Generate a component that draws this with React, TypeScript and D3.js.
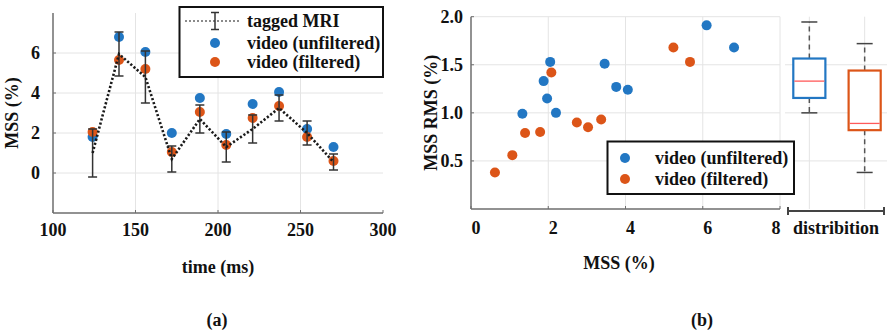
import React from "react";
import * as d3 from "d3";

// ---------- Panel (a) data ----------
const times = [124, 140, 156, 172, 189, 205, 221, 237, 254, 270];
const mriMean = [1.0, 5.95, 4.8, 0.7, 2.7, 1.3, 2.2, 3.25, 2.0, 0.55];
const mriErr = [1.2, 1.1, 1.3, 0.65, 0.7, 0.75, 0.7, 0.65, 0.6, 0.4];
const videoUnfilteredA = [1.8, 6.8, 6.05, 2.0, 3.75, 1.95, 3.45, 4.05, 2.2, 1.3];
const videoFilteredA = [2.05, 5.65, 5.2, 1.05, 3.05, 1.4, 2.75, 3.35, 1.8, 0.6];
const xTicksA = [100, 150, 200, 250, 300];
const yTicksA = [0, 2, 4, 6];

// ---------- Panel (b) data ----------
const unfilteredMSS = [1.33, 2.05, 1.88, 1.97, 2.2, 3.46, 3.76, 4.06, 6.1, 6.81];
const unfilteredRMS = [0.99, 1.53, 1.33, 1.15, 1.0, 1.51, 1.27, 1.24, 1.91, 1.68];
const filteredMSS = [2.08, 5.24, 5.67, 2.74, 3.03, 3.37, 1.4, 1.79, 1.07, 0.62];
const filteredRMS = [1.42, 1.68, 1.53, 0.9, 0.85, 0.93, 0.79, 0.8, 0.56, 0.38];
const xTicksB = [0, 2, 4, 6, 8];
const yTicksB = [0.5, 1.0, 1.5, 2.0];
// box stats: [whiskerLow, q1, median, q3, whiskerHigh]
const boxUnfiltered = [1.0, 1.155, 1.33, 1.565, 1.945];
const boxFiltered = [0.38, 0.82, 0.89, 1.44, 1.72];

const BLUE = "#2277c3";
const ORANGE = "#dc5518";
const FONT = "'Liberation Serif', 'Times New Roman', serif";
const R = 5;

export default function App() {
  const xA = d3.scaleLinear().domain([100, 300]).range([53, 383]);
  const yA = d3.scaleLinear().domain([-2, 8]).range([213, 13]);
  const xB = d3.scaleLinear().domain([0, 8]).range([471, 780]);
  const yB = d3.scaleLinear().domain([0, 2]).range([209, 16.7]);
  const xBox = d3.scaleBand().domain(["u", "f"]).range([785, 889]).paddingInner(0.42).paddingOuter(0.15);

  const mriLine = d3
    .line<number>()
    .x((_, i) => xA(times[i]))
    .y((d) => yA(d))(mriMean) as string;

  const textStyle: React.CSSProperties = {
    fontFamily: FONT,
    fontWeight: "bold",
    fontSize: 18,
    fill: "#111",
  };
  const axisColor = "#6e6e6e";
  const gridColor = "#e4e4e4";

  const box = (stats: number[], key: string, color: string) => {
    const bx = xBox(key)!;
    const bw = xBox.bandwidth();
    const cx = bx + bw / 2;
    const [wl, q1, med, q3, wh] = stats;
    return (
      <g key={key}>
        <line x1={cx} x2={cx} y1={yB(q3)} y2={yB(wh)} stroke="#555" strokeWidth={1.5} strokeDasharray="5,4" />
        <line x1={cx} x2={cx} y1={yB(q1)} y2={yB(wl)} stroke="#555" strokeWidth={1.5} strokeDasharray="5,4" />
        <line x1={cx - 8} x2={cx + 8} y1={yB(wh)} y2={yB(wh)} stroke="#444" strokeWidth={1.5} />
        <line x1={cx - 8} x2={cx + 8} y1={yB(wl)} y2={yB(wl)} stroke="#444" strokeWidth={1.5} />
        <rect x={bx} y={yB(q3)} width={bw} height={yB(q1) - yB(q3)} fill="white" stroke={color} strokeWidth={2.2} />
        <line x1={bx + 1} x2={bx + bw - 1} y1={yB(med)} y2={yB(med)} stroke="#ff5a5a" strokeWidth={1.3} />
      </g>
    );
  };

  return (
    <svg
      width={887}
      height={331}
      style={{ position: "absolute", left: 0, top: 0, background: "white" }}
    >
      <rect width={887} height={331} fill="white" />
      {/* ===== Panel (a) ===== */}
      {xTicksA.slice(1, 4).map((t) => (
        <line key={"gxa" + t} x1={xA(t)} x2={xA(t)} y1={yA(8)} y2={yA(-2)} stroke={gridColor} strokeWidth={1} />
      ))}
      {yTicksA.map((t) => (
        <line key={"gya" + t} x1={xA(100)} x2={xA(300)} y1={yA(t)} y2={yA(t)} stroke={gridColor} strokeWidth={1} />
      ))}
      <line x1={xA(100)} x2={xA(100)} y1={yA(8)} y2={yA(-2)} stroke={axisColor} strokeWidth={1.5} />
      <line x1={xA(100)} x2={xA(300)} y1={yA(-2)} y2={yA(-2)} stroke={axisColor} strokeWidth={1.5} />
      {yTicksA.map((t) => (
        <g key={"tya" + t}>
          <line x1={xA(100)} x2={xA(100) + 3} y1={yA(t)} y2={yA(t)} stroke={axisColor} strokeWidth={1} />
          <text x={40} y={yA(t)} dy="0.35em" textAnchor="end" style={textStyle}>
            {t}
          </text>
        </g>
      ))}
      {xTicksA.map((t) => (
        <g key={"txa" + t}>
          <line x1={xA(t)} x2={xA(t)} y1={yA(-2)} y2={yA(-2) - 3} stroke={axisColor} strokeWidth={1} />
          <text x={xA(t)} y={230} dy="0.35em" textAnchor="middle" style={textStyle}>
            {t}
          </text>
        </g>
      ))}
      <text x={218} y={267} dy="0.35em" textAnchor="middle" style={textStyle}>
        time (ms)
      </text>
      <text
        transform={`translate(12,${yA(3)}) rotate(-90)`}
        dy="0.35em"
        textAnchor="middle"
        style={textStyle}
      >
        MSS (%)
      </text>
      <text x={217} y={320} dy="0.35em" textAnchor="middle" style={textStyle}>
        (a)
      </text>

      {videoUnfilteredA.map((v, i) => (
        <circle key={"bu" + i} cx={xA(times[i])} cy={yA(v)} r={R} fill={BLUE} />
      ))}
      {videoFilteredA.map((v, i) => (
        <circle key={"bf" + i} cx={xA(times[i])} cy={yA(v)} r={R} fill={ORANGE} />
      ))}
      {mriMean.map((m, i) => {
        const x = xA(times[i]);
        const lo = yA(m - mriErr[i]);
        const hi = yA(m + mriErr[i]);
        return (
          <g key={"eb" + i} stroke="#333" strokeWidth={1.5}>
            <line x1={x} x2={x} y1={lo} y2={hi} />
            <line x1={x - 4.5} x2={x + 4.5} y1={lo} y2={lo} />
            <line x1={x - 4.5} x2={x + 4.5} y1={hi} y2={hi} />
          </g>
        );
      })}
      <path d={mriLine} fill="none" stroke="#1a1a1a" strokeWidth={2.6} strokeDasharray="2.2,2" />

      {/* legend (a) */}
      <rect x={179.5} y={7} width={203.5} height={70} fill="white" stroke="#111" strokeWidth={2} />
      <line x1={185} x2={240} y1={21} y2={21} stroke="#666" strokeWidth={1.5} strokeDasharray="2,2" />
      <g stroke="#333" strokeWidth={1.5}>
        <line x1={215} x2={215} y1={12.5} y2={29.5} />
        <line x1={211} x2={219} y1={12.5} y2={12.5} />
        <line x1={211} x2={219} y1={29.5} y2={29.5} />
      </g>
      <circle cx={215} cy={43} r={R} fill={BLUE} />
      <circle cx={215} cy={62} r={R} fill={ORANGE} />
      <text x={247} y={21} dy="0.35em" style={textStyle}>
        tagged MRI
      </text>
      <text x={247} y={43} dy="0.35em" style={textStyle}>
        video (unfiltered)
      </text>
      <text x={247} y={62} dy="0.35em" style={textStyle}>
        video (filtered)
      </text>

      {/* ===== Panel (b) ===== */}
      {xTicksB.slice(1).map((t) => (
        <line key={"gxb" + t} x1={xB(t)} x2={xB(t)} y1={yB(2)} y2={yB(0)} stroke={gridColor} strokeWidth={1} />
      ))}
      {yTicksB.map((t) => (
        <line key={"gyb" + t} x1={xB(0)} x2={xB(8)} y1={yB(t)} y2={yB(t)} stroke={gridColor} strokeWidth={1} />
      ))}
      <line x1={xB(0)} x2={xB(0)} y1={yB(2)} y2={yB(0)} stroke={axisColor} strokeWidth={1.5} />
      <line x1={xB(0)} x2={xB(8)} y1={yB(0)} y2={yB(0)} stroke={axisColor} strokeWidth={1.5} />
      {yTicksB.map((t) => (
        <g key={"tyb" + t}>
          <line x1={xB(0)} x2={xB(0) + 3} y1={yB(t)} y2={yB(t)} stroke={axisColor} strokeWidth={1} />
          <text x={463} y={yB(t)} dy="0.35em" textAnchor="end" style={textStyle}>
            {d3.format(".1f")(t)}
          </text>
        </g>
      ))}
      {xTicksB.map((t) => (
        <g key={"txb" + t}>
          <line x1={xB(t)} x2={xB(t)} y1={yB(0)} y2={yB(0) - 3} stroke={axisColor} strokeWidth={1} />
          <text x={xB(t) + (t === 8 ? -4 : 5)} y={228} dy="0.35em" textAnchor="middle" style={textStyle}>
            {t}
          </text>
        </g>
      ))}
      <text x={619} y={263} dy="0.35em" textAnchor="middle" style={textStyle}>
        MSS (%)
      </text>
      <text
        transform={`translate(431,${yB(1)}) rotate(-90)`}
        dy="0.35em"
        textAnchor="middle"
        style={textStyle}
      >
        MSS RMS (%)
      </text>
      <text x={702} y={320} dy="0.35em" textAnchor="middle" style={textStyle}>
        (b)
      </text>

      {unfilteredMSS.map((v, i) => (
        <circle key={"su" + i} cx={xB(v)} cy={yB(unfilteredRMS[i])} r={R} fill={BLUE} />
      ))}
      {filteredMSS.map((v, i) => (
        <circle key={"sf" + i} cx={xB(v)} cy={yB(filteredRMS[i])} r={R} fill={ORANGE} />
      ))}

      {/* distribution panel */}
      {[0.5, 1.0, 1.5].map((t) => (
        <line key={"gbox" + t} x1={785} x2={887} y1={yB(t)} y2={yB(t)} stroke={gridColor} strokeWidth={1} />
      ))}
      {["u", "f"].map((k) => (
        <line
          key={"gvb" + k}
          x1={xBox(k)! + xBox.bandwidth() / 2}
          x2={xBox(k)! + xBox.bandwidth() / 2}
          y1={yB(2)}
          y2={yB(0)}
          stroke={gridColor}
          strokeWidth={1}
        />
      ))}
      {box(boxUnfiltered, "u", BLUE)}
      {box(boxFiltered, "f", ORANGE)}
      <g stroke="#444" strokeWidth={2}>
        <line x1={788} x2={884} y1={211} y2={211} />
        <line x1={788} x2={788} y1={207} y2={215} />
        <line x1={884} x2={884} y1={207} y2={215} />
      </g>
      <text x={836} y={228} dy="0.35em" textAnchor="middle" style={textStyle}>
        distribition
      </text>

      {/* legend (b) */}
      <rect x={607.5} y={141.5} width={186.5} height={52.5} fill="white" stroke="#111" strokeWidth={2} />
      <circle cx={625} cy={158} r={R} fill={BLUE} />
      <circle cx={625} cy={179} r={R} fill={ORANGE} />
      <text x={655} y={158} dy="0.35em" style={textStyle}>
        video (unfiltered)
      </text>
      <text x={655} y={179} dy="0.35em" style={textStyle}>
        video (filtered)
      </text>
    </svg>
  );
}
